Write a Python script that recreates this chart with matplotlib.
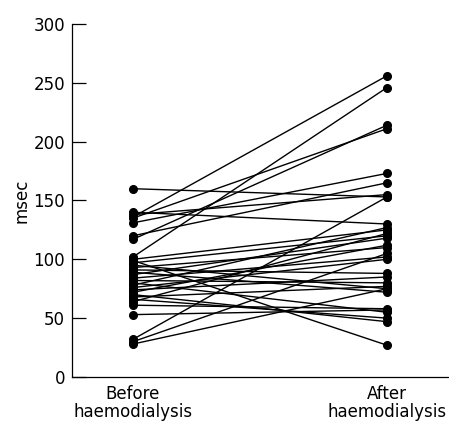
import matplotlib
matplotlib.use("Agg")
import matplotlib.pyplot as plt

# Paired measurements (msec), one entry per patient
before = [160, 140, 138, 136, 135, 131, 120, 117, 102, 100, 99, 97,
          95, 93, 91, 89, 87, 84, 82, 80, 78, 76, 74, 72, 70, 68,
          66, 64, 61, 53, 32, 30, 28]
after = [153, 130, 155, 256, 211, 173, 165, 214, 246, 125, 27, 120,
         75, 110, 88, 72, 118, 102, 80, 55, 127, 100, 85, 112, 47, 77,
         50, 122, 58, 57, 153, 105, 75]
group_labels = ["Before\nhaemodialysis", "After\nhaemodialysis"]

plt.rcParams['font.family'] = ['DejaVu Sans']

fig = plt.figure(figsize=(4.49, 4.28), dpi=100)
ax = fig.add_axes([0.1604, 0.1192, 0.8396, 0.8248])

for b, a in zip(before, after):
    ax.plot([0, 1], [b, a], color='black', linewidth=1.0,
            marker='o', markersize=5.5, solid_capstyle='round')

ax.set_xlim(-0.24, 1.244)
ax.set_ylim(0, 300)
ax.set_yticks(range(0, 301, 50))
ax.set_xticks([0, 1])
ax.set_xticklabels(group_labels, fontsize=12, linespacing=1.0)
ax.tick_params(axis='y', direction='in', length=10, width=0.9, pad=5, labelsize=12)
ax.tick_params(axis='x', length=0, pad=6)
ax.set_ylabel('msec', fontsize=12, labelpad=2)

ax.spines['top'].set_visible(False)
ax.spines['right'].set_visible(False)
ax.spines['left'].set_linewidth(0.9)
ax.spines['bottom'].set_linewidth(0.9)

fig.savefig('out.png', dpi=100)
